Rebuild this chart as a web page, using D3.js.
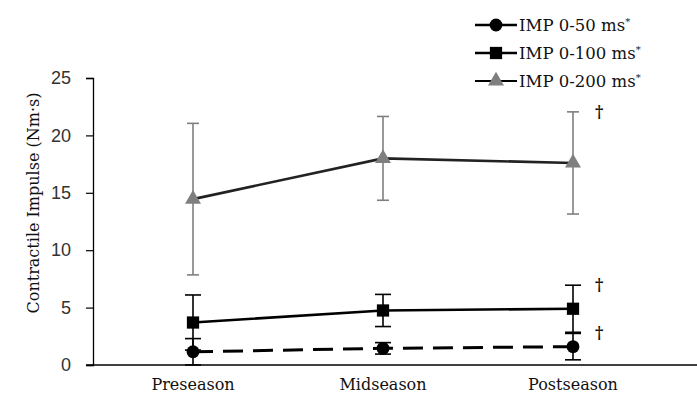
<!DOCTYPE html>
<html><head><meta charset="utf-8">
<script src="https://cdn.jsdelivr.net/npm/d3@7"></script>
<style>body{margin:0;background:#fff}svg{display:block}</style>
</head><body><svg id="c" width="697" height="393"></svg>
<script>
const categories = ["Preseason", "Midseason", "Postseason"];
const yTicks = [0, 5, 10, 15, 20, 25];
const seriesNames = ["IMP 0-50 ms", "IMP 0-100 ms", "IMP 0-200 ms"];
const imp50 = [1.15, 1.45, 1.6];
const imp50Err = [1.15, 0.5, 1.15];
const imp100 = [3.7, 4.75, 4.9];
const imp100Err = [2.4, 1.4, 2.05];
const imp200 = [14.45, 18.0, 17.6];
const imp200Err = [6.6, 3.65, 4.45];
const daggerFlags = [true, true, true];

const svg = d3.select("#c");
const x = d3.scalePoint().domain(categories).range([193, 573]);
const y = d3.scaleLinear().domain([0, 25]).range([365, 78]);

const yAxis = d3.axisLeft(y).tickValues(yTicks).tickSize(7).tickPadding(15);
const gy = svg.append("g").attr("transform", "translate(93,0)").call(yAxis);
gy.select(".domain").attr("stroke", "#000").attr("stroke-width", 1.3);
gy.selectAll(".tick line").attr("stroke", "#000").attr("stroke-width", 1.2);
gy.selectAll(".tick text").attr("font-family", "Liberation Sans, Arial, sans-serif").attr("font-size", 18).attr("fill", "#333");

svg.append("line").attr("x1", 86).attr("x2", 697).attr("y1", y(0)).attr("y2", y(0))
  .attr("stroke", "#000").attr("stroke-width", 1.3);

svg.selectAll("text.xl").data(categories).enter().append("text")
  .attr("class", "xl").attr("x", d => x(d)).attr("y", 390)
  .attr("text-anchor", "middle").attr("font-family", "DejaVu Serif, serif")
  .attr("font-size", 16).attr("fill", "#111").text(d => d);

svg.append("text").attr("transform", "translate(39,203) rotate(-90)")
  .attr("text-anchor", "middle").attr("font-family", "DejaVu Serif, serif")
  .attr("font-size", 16).attr("fill", "#111").text("Contractile Impulse (Nm·s)");

const series = [
  {vals: imp50, err: imp50Err, line: "#000", dash: "20,10", lw: 3, mcol: "#000", eb: "#000", shape: d3.symbolCircle, msize: 130, cap: 8},
  {vals: imp100, err: imp100Err, line: "#000", dash: null, lw: 2.6, mcol: "#000", eb: "#000", shape: d3.symbolSquare, msize: 150, cap: 8},
  {vals: imp200, err: imp200Err, line: "#222", dash: null, lw: 2.6, mcol: "#7f7f7f", eb: "#7f7f7f", shape: d3.symbolTriangle, msize: 110, cap: 6}
];

const lineGen = d3.line().x((d, i) => x(categories[i])).y(d => y(d));

[2, 1, 0].forEach(si => {
  const s = series[si];
  const g = svg.append("g");
  s.vals.forEach((v, i) => {
    const cx = x(categories[i]);
    const lo = Math.max(0, v - s.err[i]), hi = v + s.err[i];
    g.append("line").attr("x1", cx).attr("x2", cx).attr("y1", y(lo)).attr("y2", y(hi))
      .attr("stroke", s.eb).attr("stroke-width", 1.6);
    [lo, hi].forEach(e => g.append("line").attr("x1", cx - s.cap).attr("x2", cx + s.cap)
      .attr("y1", y(e)).attr("y2", y(e)).attr("stroke", s.eb).attr("stroke-width", 1.6));
  });
  g.append("path").datum(s.vals).attr("d", lineGen).attr("fill", "none")
    .attr("stroke", s.line).attr("stroke-width", s.lw).attr("stroke-dasharray", s.dash);
  g.selectAll("path.m").data(s.vals).enter().append("path").attr("class", "m")
    .attr("transform", (d, i) => `translate(${x(categories[i])},${y(d)})`)
    .attr("d", d3.symbol().type(s.shape).size(s.msize)).attr("fill", s.mcol);
  if (daggerFlags[si]) {
    const last = s.vals.length - 1;
    g.append("text").attr("x", x(categories[last]) + 22).attr("y", y(s.vals[last] + s.err[last]) + 5)
      .attr("font-family", "DejaVu Serif, serif").attr("font-size", 16).attr("font-weight", "bold").attr("fill", "#111").text("†");
  }
});

const legY = [25, 53, 81];
series.forEach((s, i) => {
  const g = svg.append("g").attr("transform", `translate(0,${legY[i]})`);
  g.append("line").attr("x1", 475).attr("x2", 517).attr("stroke", "#000").attr("stroke-width", i === 2 ? 1.8 : 2.6);
  g.append("path").attr("transform", "translate(496,0)").attr("d", d3.symbol().type(s.shape).size(s.msize)).attr("fill", s.mcol);
  const t = g.append("text").attr("x", 519).attr("y", 6).attr("font-family", "DejaVu Serif, serif")
    .attr("font-size", 16.5).attr("fill", "#111").text(seriesNames[i]);
  t.append("tspan").attr("dy", -6).attr("font-size", 10).text("*");
});
</script></body></html>
